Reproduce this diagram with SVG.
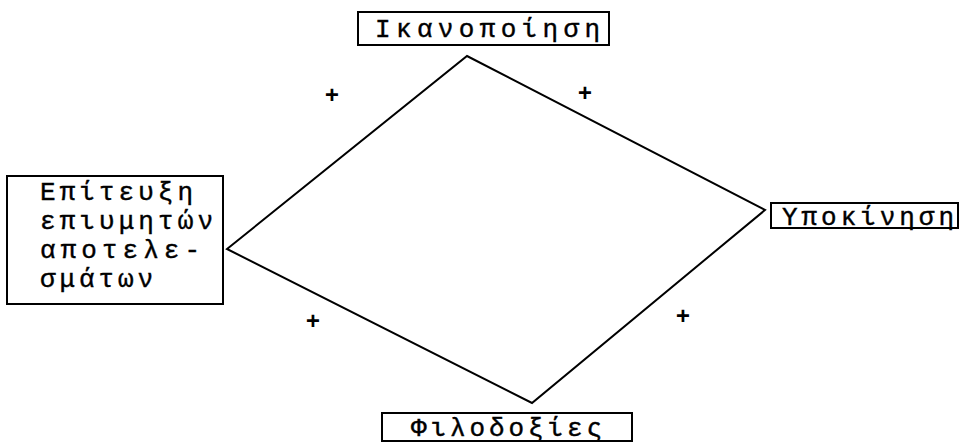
<svg xmlns="http://www.w3.org/2000/svg" width="962" height="444" viewBox="0 0 962 444">
<style>
.box{fill:#fff;stroke:#000;stroke-width:2}
.t{font-family:"Liberation Mono","DejaVu Sans Mono",monospace;font-size:26px;fill:#000;stroke:#000;stroke-width:0.4}
.c{fill:none;stroke:#000;stroke-width:2}
.p{font-family:"Liberation Mono","DejaVu Sans Mono",monospace;font-size:24px;font-weight:bold;fill:#000}
</style>
<rect width="962" height="444" fill="#fff"/>
<g id="connectors">
<polygon class="c" points="467,56 765,210 532,403 227,249"/>
<text class="p" x="332" y="103" text-anchor="middle">+</text>
<text class="p" x="585" y="101" text-anchor="middle">+</text>
<text class="p" x="313" y="329" text-anchor="middle">+</text>
<text class="p" x="683" y="324" text-anchor="middle">+</text>
</g>
<g id="ikanopoiisi">
<rect class="box" x="358" y="12" width="251" height="33"/>
<text class="t" x="375" y="37" textLength="225" lengthAdjust="spacing">Ικανοποίηση</text>
</g>
<g id="epiteuxi">
<rect class="box" x="7" y="176" width="216" height="128"/>
<text class="t" x="40" y="200" textLength="153" lengthAdjust="spacing">Επίτευξη</text>
<text class="t" x="40" y="229" textLength="173" lengthAdjust="spacing">επιυμητών</text>
<text class="t" x="40" y="258" textLength="160" lengthAdjust="spacing">αποτελε-</text>
<text class="t" x="40" y="287" textLength="113" lengthAdjust="spacing">σμάτων</text>
</g>
<g id="ypokinisi">
<rect class="box" x="771" y="203" width="187" height="25"/>
<text class="t" x="782" y="225" textLength="172" lengthAdjust="spacing">Υποκίνηση</text>
</g>
<g id="filodoxies">
<rect class="box" x="382" y="413" width="250" height="28"/>
<text class="t" x="411" y="436" textLength="191" lengthAdjust="spacing">Φιλοδοξίες</text>
</g>
</svg>
